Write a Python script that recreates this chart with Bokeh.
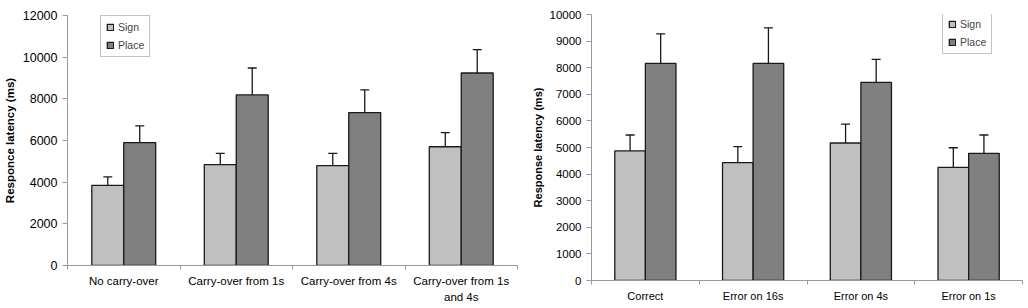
from bokeh.plotting import figure
from bokeh.layouts import row, column
from bokeh.models import (ColumnDataSource, Range1d, FixedTicker, Whisker, TeeHead,
                          Legend, LegendItem)
from bokeh.embed import file_html
from bokeh.resources import INLINE

# ---- data ----
left_categories = ["No carry-over", "Carry-over from 1s", "Carry-over from 4s", "Carry-over from 1s\nand 4s"]
left_sign = [3850, 4840, 4790, 5700]
left_sign_err = [400, 540, 590, 680]
left_place = [5900, 8190, 7340, 9240]
left_place_err = [800, 1290, 1090, 1120]
left_yticks = [0, 2000, 4000, 6000, 8000, 10000, 12000]

right_categories = ["Correct", "Error on 16s", "Error on 4s", "Error on 1s"]
right_sign = [4870, 4430, 5170, 4250]
right_sign_err = [600, 600, 710, 740]
right_place = [8160, 8160, 7450, 4780]
right_place_err = [1110, 1340, 860, 690]
right_yticks = [0, 1000, 2000, 3000, 4000, 5000, 6000, 7000, 8000, 9000, 10000]

series_names = ["Sign", "Place"]
colors = ["#c0c0c0", "#808080"]
BAR_W = 0.284


def panel(cats, sign, sign_err, place, place_err, yticks, ymax, ylabel,
          width, height, bl, br, bt, bb, ytick_fs, xtick_fs, label_fs, standoff,
          line_h, label_standoff, legend_xy):
    p = figure(width=width, height=height, output_backend="svg", toolbar_location=None,
               x_range=Range1d(0, len(cats)), y_range=Range1d(0, ymax),
               min_border_left=bl, min_border_right=br, min_border_top=bt, min_border_bottom=bb)
    p.outline_line_color = None
    p.grid.visible = False
    p.background_fill_color = "white"
    p.border_fill_color = "white"

    centers = [i + 0.5 for i in range(len(cats))]
    renderers = []
    for k, (vals, errs) in enumerate([(sign, sign_err), (place, place_err)]):
        off = (-0.5 + k) * BAR_W
        xs = [c + off for c in centers]
        src = ColumnDataSource(dict(x=xs, top=vals, upper=[v + e for v, e in zip(vals, errs)]))
        r = p.vbar(x="x", top="top", bottom=0, width=BAR_W, source=src,
                   fill_color=colors[k], line_color="#1a1a1a", line_width=1.3)
        renderers.append(r)
        w = Whisker(source=src, base="x", lower="top", upper="upper", dimension="height",
                    line_color="#1a1a1a", line_width=1.3, lower_head=None,
                    upper_head=TeeHead(size=9, line_color="#1a1a1a", line_width=1.3))
        p.add_layout(w)

    # x axis: labels at centers, tick marks at category boundaries (minor ticks)
    xa = p.xaxis[0]
    xa.ticker = FixedTicker(ticks=centers, minor_ticks=list(range(len(cats) + 1)))
    xa.major_label_overrides = {c: lab for c, lab in zip(centers, cats)}
    xa.major_tick_out = 0
    xa.major_tick_in = 0
    xa.minor_tick_out = 4
    xa.minor_tick_in = 0
    xa.minor_tick_line_color = "#999999"
    xa.axis_line_color = "#999999"
    xa.major_label_text_font = "Liberation Sans"
    xa.major_label_text_font_size = xtick_fs
    xa.major_label_text_color = "black"
    xa.major_label_text_line_height = line_h
    xa.major_label_standoff = standoff

    ya = p.yaxis[0]
    ya.ticker = FixedTicker(ticks=yticks, minor_ticks=[])
    ya.major_tick_out = 5
    ya.major_tick_in = 0
    ya.major_tick_line_color = "#999999"
    ya.axis_line_color = "#999999"
    ya.major_label_text_font = "Liberation Sans"
    ya.major_label_text_font_size = ytick_fs
    ya.major_label_text_color = "black"
    ya.major_label_standoff = 5
    ya.axis_label = ylabel
    ya.axis_label_text_font = "Liberation Sans"
    ya.axis_label_text_font_style = "bold"
    ya.axis_label_text_font_size = label_fs
    ya.axis_label_text_color = "black"
    ya.axis_label_standoff = label_standoff

    legend = Legend(items=[LegendItem(label=series_names[i], renderers=[renderers[i]]) for i in range(2)],
                    location=legend_xy, orientation="vertical",
                    glyph_width=8, glyph_height=8, label_height=12, label_width=0,
                    spacing=6, padding=5, margin=0, label_standoff=4,
                    label_text_font="Liberation Sans", label_text_font_size="10.5px",
                    border_line_color="#888888", border_line_width=1,
                    background_fill_color="white", background_fill_alpha=1)
    p.add_layout(legend, "center")
    return p


p1 = panel(left_categories, left_sign, left_sign_err, left_place, left_place_err,
           left_yticks, 12000, "Responce latency (ms)",
           520, 308, 67, 3, 15, 43, "12.5px", "11.5px", "11.5px", 5, 1.35, 4, (33, 208))
p2 = panel(right_categories, right_sign, right_sign_err, right_place, right_place_err,
           right_yticks, 10000, "Response latency (ms)",
           508, 308, 71, 6, 14, 28, "11.5px", "11px", "11px", 5, 1.2, 3, (351, 226))

layout = row(column(p1), column(p2))
open("out.html", "w").write(file_html(layout, INLINE))
